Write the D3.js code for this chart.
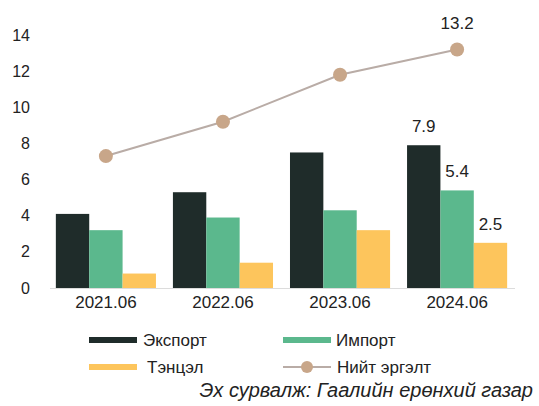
<!DOCTYPE html>
<html><head><meta charset="utf-8">
<script src="https://cdn.jsdelivr.net/npm/d3@7"></script>
<style>
html,body{margin:0;padding:0;background:#fff;}
svg{display:block;font-family:"Liberation Sans",Arial,sans-serif;}
</style></head>
<body>
<svg id="chart" width="539" height="406"></svg>
<script>
const categories = ["2021.06","2022.06","2023.06","2024.06"];
const exportVals = [4.1, 5.3, 7.5, 7.9];
const importVals = [3.2, 3.9, 4.3, 5.4];
const balanceVals = [0.8, 1.4, 3.2, 2.5];
const totalVals = [7.3, 9.2, 11.8, 13.2];
const yTicks = [0,2,4,6,8,10,12,14];
const seriesNames = ["Экспорт","Импорт","Тэнцэл","Нийт эргэлт"];
const colors = {"Экспорт":"#1f2c2a","Импорт":"#5bb88d","Тэнцэл":"#fdc55c","line":"#b9aca6","dot":"#c8a689"};
// labels shown only for last period
const labelIndex = 3;

const svg = d3.select("#chart");
const y = d3.scaleLinear().domain([0,14]).range([288,35]);
const x = d3.scaleBand().domain(categories).range([50,513]).paddingInner(0.145).paddingOuter(0.05);
const bars = [exportVals, importVals, balanceVals];
const barNames = seriesNames.slice(0,3);
const xs = d3.scaleBand().domain(barNames).range([0, x.bandwidth()]).padding(0);

// y axis labels
const yAxis = d3.axisLeft(y).tickValues(yTicks).tickSize(0).tickPadding(0);
const gy = svg.append("g").attr("transform","translate(30,0)").call(yAxis);
gy.select(".domain").remove();
gy.selectAll("text").attr("font-size",16).attr("fill","#222").attr("font-family","Liberation Sans, Arial, sans-serif");

// baseline
svg.append("line").attr("x1",50).attr("x2",515).attr("y1",y(0)+0.5).attr("y2",y(0)+0.5).attr("stroke","#dcdcdc").attr("stroke-width",1);

// bars
const g = svg.append("g");
categories.forEach((c,i)=>{
  bars.forEach((arr,j)=>{
    const name = barNames[j];
    g.append("rect")
      .attr("x", x(c)+xs(name))
      .attr("y", y(arr[i]))
      .attr("width", xs.bandwidth())
      .attr("height", y(0)-y(arr[i]))
      .attr("fill", colors[name]);
  });
});

// x axis labels
const xAxis = d3.axisBottom(x).tickSize(0).tickPadding(0);
const gx = svg.append("g").attr("transform",`translate(0,${y(0)+8})`).call(xAxis);
gx.select(".domain").remove();
gx.selectAll("text").attr("font-size",17).attr("fill","#222").attr("dy","0.71em").attr("font-family","Liberation Sans, Arial, sans-serif");

// line
const cx = c => x(c)+x.bandwidth()/2;
const line = d3.line().x((d,i)=>cx(categories[i])).y(d=>y(d));
svg.append("path").datum(totalVals).attr("d",line).attr("fill","none").attr("stroke",colors.line).attr("stroke-width",2);
svg.selectAll("circle.pt").data(totalVals).join("circle").attr("class","pt")
  .attr("cx",(d,i)=>cx(categories[i])).attr("cy",d=>y(d)).attr("r",7).attr("fill",colors.dot);

// value labels
const lab = (tx,ty,t)=>svg.append("text").attr("x",tx).attr("y",ty).attr("text-anchor","middle").attr("font-size",17).attr("fill","#222").text(t);
const lc = categories[labelIndex];
lab(cx(lc), y(totalVals[labelIndex])-20, totalVals[labelIndex].toFixed(1));
bars.forEach((arr,j)=>{
  const name = barNames[j];
  lab(x(lc)+xs(name)+xs.bandwidth()/2, y(arr[labelIndex])-13, arr[labelIndex].toFixed(1));
});

// legend
const leg = svg.append("g").attr("font-size",17).attr("fill","#222");
const legItems = [
  {name:"Экспорт", x:89, y:340, tx:143, type:"rect"},
  {name:"Импорт", x:283, y:340, tx:336, type:"rect"},
  {name:"Тэнцэл", x:89, y:367, tx:147, type:"rect"},
  {name:"Нийт эргэлт", x:283, y:367, tx:337, type:"line"}
];
legItems.forEach(it=>{
  if(it.type==="rect"){
    leg.append("rect").attr("x",it.x).attr("y",it.y-3).attr("width",48).attr("height",6).attr("fill",colors[it.name]);
  } else {
    leg.append("line").attr("x1",it.x).attr("x2",it.x+48).attr("y1",it.y).attr("y2",it.y).attr("stroke",colors.line).attr("stroke-width",2);
    leg.append("circle").attr("cx",it.x+24).attr("cy",it.y).attr("r",6).attr("fill",colors.dot);
  }
  leg.append("text").attr("x",it.tx).attr("y",it.y+6).text(it.name);
});

// source
svg.append("text").attr("x",533).attr("y",397).attr("text-anchor","end").attr("font-size",20).attr("font-style","italic").attr("fill","#222").text("Эх сурвалж: Гаалийн ерөнхий газар");
</script>
</body></html>
